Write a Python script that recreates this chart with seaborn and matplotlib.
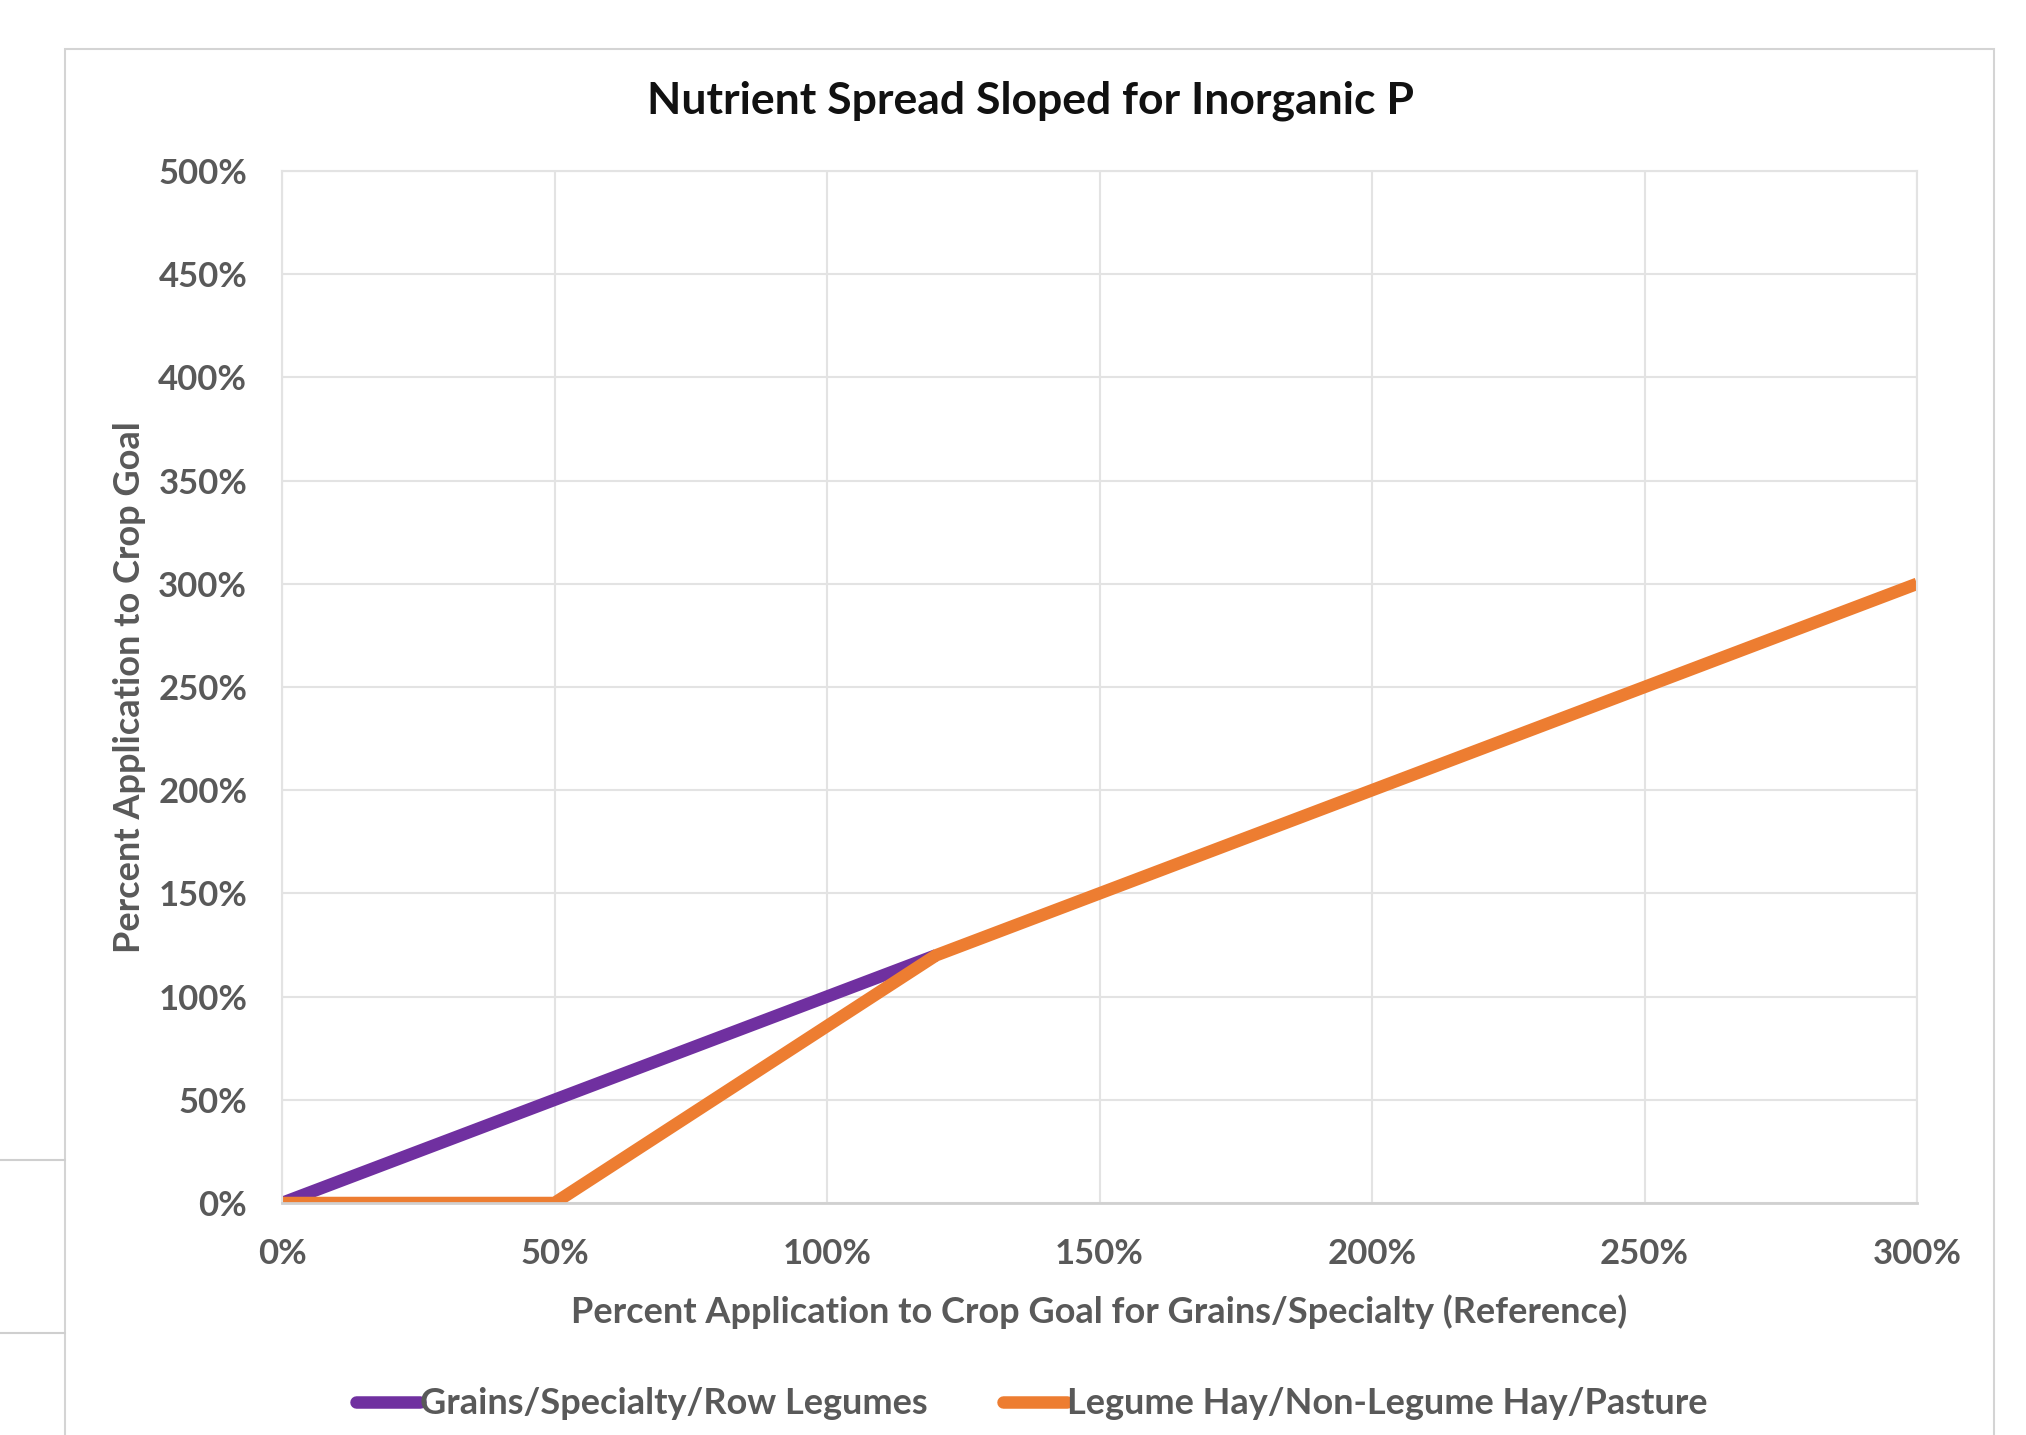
import matplotlib
matplotlib.use("Agg")
import matplotlib.pyplot as plt
import seaborn as sns
import pandas as pd
from matplotlib.lines import Line2D
from matplotlib.patches import Rectangle
from matplotlib.ticker import FuncFormatter

# ---- data ----
grains_x = [0.0, 0.5, 1.0, 1.2]
grains_y = [0.0, 0.5, 1.0, 1.2]
hay_x = [0.0, 0.5, 1.2, 3.0]
hay_y = [0.0, 0.0, 1.2, 3.0]
series_names = ["Grains/Specialty/Row Legumes", "Legume Hay/Non-Legume Hay/Pasture"]
series_colors = ["#7030A0", "#ED7D31"]
x_ticks = [0, 0.5, 1.0, 1.5, 2.0, 2.5, 3.0]
y_ticks = [0, 0.5, 1.0, 1.5, 2.0, 2.5, 3.0, 3.5, 4.0, 4.5, 5.0]
title = "Nutrient Spread Sloped for Inorganic P"
x_label = "Percent Application to Crop Goal for Grains/Specialty (Reference)"
y_label = "Percent Application to Crop Goal"

df = pd.concat([
    pd.DataFrame({"x": grains_x, "y": grains_y, "series": series_names[0], "order": range(len(grains_x))}),
    pd.DataFrame({"x": hay_x, "y": hay_y, "series": series_names[1], "order": range(len(hay_x))}),
], ignore_index=True)

sns.set_theme(style="white")
plt.rcParams["font.family"] = ["Lato", "DejaVu Sans"]

W, H = 2026, 1435
fig = plt.figure(figsize=(W / 100, H / 100), dpi=100)
fig.patch.set_facecolor("white")

# chart border and screenshot artifacts
fig.add_artist(Rectangle((65 / W, -0.02), (1994 - 65) / W, 1 - 49 / H + 0.02,
                         transform=fig.transFigure, fill=False, edgecolor="#D4D4D4", linewidth=1.5))
for yy in (1160, 1333):
    fig.add_artist(Line2D([0, 65 / W], [1 - yy / H] * 2, transform=fig.transFigure,
                          color="#CFCFCF", linewidth=1.5))

ax = fig.add_axes([282 / W, 1 - 1203 / H, (1917 - 282) / W, (1203 - 171) / H])
sns.lineplot(data=df, x="x", y="y", hue="series", palette=series_colors, sort=False,
             units="series", estimator=None, linewidth=9, ax=ax, legend=False,
             solid_capstyle="butt", solid_joinstyle="round")

ax.set_xlim(0, 3)
ax.set_ylim(0, 5)
ax.set_xticks(x_ticks)
ax.set_yticks(y_ticks)
pct = FuncFormatter(lambda v, p: f"{v * 100:.0f}%")
ax.xaxis.set_major_formatter(pct)
ax.yaxis.set_major_formatter(pct)
ax.grid(True, color="#E3E3E3", linewidth=1.5)
ax.set_axisbelow(True)
for s in ("top", "right", "left"):
    ax.spines[s].set_color("#E3E3E3")
    ax.spines[s].set_linewidth(1.5)
ax.spines["bottom"].set_color("#D0D0D0")
ax.spines["bottom"].set_linewidth(2)
ax.tick_params(axis="y", length=0, labelsize=25, labelcolor="#595959", pad=25)
ax.tick_params(axis="x", length=0, labelsize=25, labelcolor="#595959", pad=25)
for lab in ax.get_xticklabels() + ax.get_yticklabels():
    lab.set_fontweight("bold")

ax.set_xlabel(x_label, fontsize=26, fontweight="bold", color="#595959", labelpad=18)
ax.set_ylabel(y_label, fontsize=26, fontweight="bold", color="#595959", labelpad=9)
fig.text(1030 / W, 1 - 101 / H, title, ha="center", va="center", fontsize=32,
         fontweight="bold", color="#111111")

handles = [Line2D([], [], color=c, linewidth=9) for c in series_colors]
leg = fig.legend(handles, series_names, loc="center", bbox_to_anchor=(1032 / W, 1 - 1404 / H),
                 ncol=2, frameon=False, handlelength=1.76, handletextpad=0.0, columnspacing=2.1,
                 prop={"size": 26, "weight": "bold"})
for t in leg.get_texts():
    t.set_color("#595959")

fig.savefig("out.png", dpi=100)
